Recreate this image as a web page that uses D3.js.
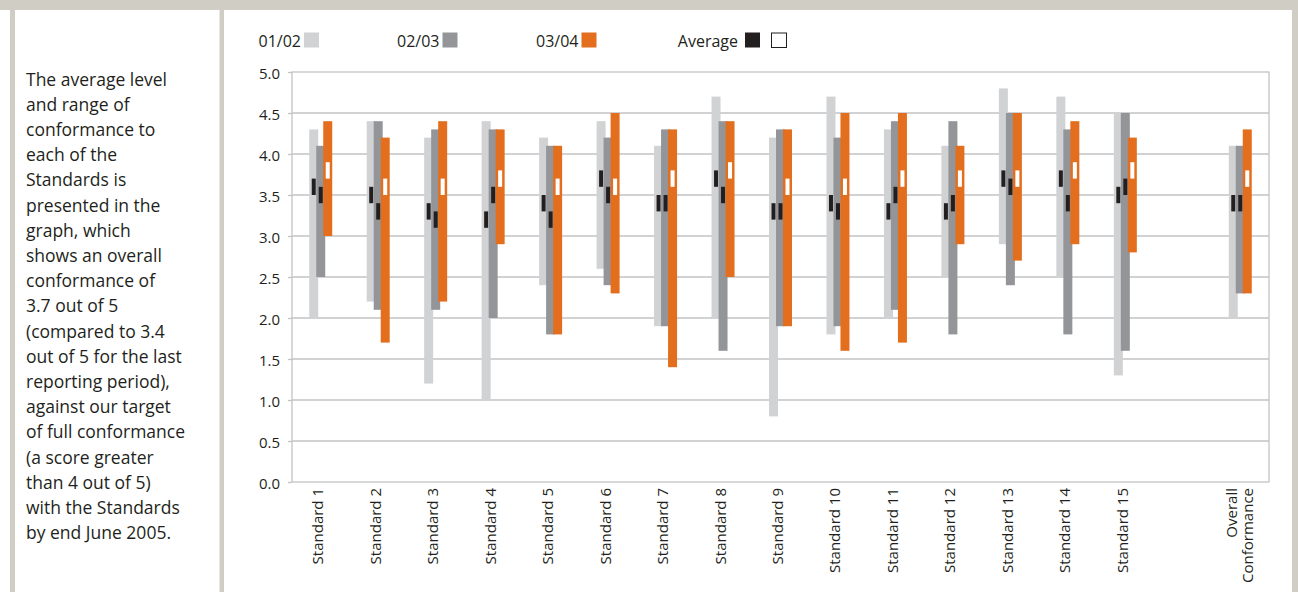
<!DOCTYPE html>
<html>
<head>
<meta charset="utf-8">
<script src="https://cdn.jsdelivr.net/npm/d3@7/dist/d3.min.js"></script>
<style>
  html, body { margin: 0; padding: 0; background: #ffffff; }
  svg { display: block; }
  text { font-family: "Open Sans", "Noto Sans", sans-serif; fill: #231f20; }
</style>
</head>
<body>
<svg id="chart" width="1298" height="592"></svg>
<script>
// ---------- data ----------
const categories = ["Standard 1","Standard 2","Standard 3","Standard 4","Standard 5",
  "Standard 6","Standard 7","Standard 8","Standard 9","Standard 10","Standard 11",
  "Standard 12","Standard 13","Standard 14","Standard 15","","Overall Conformance"];
const seriesNames = ["01/02","02/03","03/04"];
const seriesColors = ["#d1d2d4","#939598","#e36f1e"];

const low0102  = [2.0,2.2,1.2,1.0,2.4,2.6,1.9,2.0,0.8,1.8,2.0,2.5,2.9,2.5,1.3,null,2.0];
const high0102 = [4.3,4.4,4.2,4.4,4.2,4.4,4.1,4.7,4.2,4.7,4.3,4.1,4.8,4.7,4.5,null,4.1];
const avg0102  = [3.6,3.5,3.3,3.2,3.4,3.7,3.4,3.7,3.3,3.4,3.3,3.3,3.7,3.7,3.5,null,3.4];

const low0203  = [2.5,2.1,2.1,2.0,1.8,2.4,1.9,1.6,1.9,1.9,2.1,1.8,2.4,1.8,1.6,null,2.3];
const high0203 = [4.1,4.4,4.3,4.3,4.1,4.2,4.3,4.4,4.3,4.2,4.4,4.4,4.5,4.3,4.5,null,4.1];
const avg0203  = [3.5,3.3,3.2,3.5,3.2,3.5,3.4,3.5,3.3,3.3,3.5,3.4,3.6,3.4,3.6,null,3.4];

const low0304  = [3.0,1.7,2.2,2.9,1.8,2.3,1.4,2.5,1.9,1.6,1.7,2.9,2.7,2.9,2.8,null,2.3];
const high0304 = [4.4,4.2,4.4,4.3,4.1,4.5,4.3,4.4,4.3,4.5,4.5,4.1,4.5,4.4,4.2,null,4.3];
const avg0304  = [3.8,3.6,3.6,3.7,3.6,3.6,3.7,3.8,3.6,3.6,3.7,3.7,3.7,3.8,3.8,null,3.7];

const yTicks = [0,0.5,1,1.5,2,2.5,3,3.5,4,4.5,5];
const avgHalfBand = 0.1; // average marker drawn as avg ± 0.1

const introLines = ["The average level","and range of","conformance to","each of the",
  "Standards is","presented in the","graph, which","shows an overall","conformance of",
  "3.7 out of 5","(compared to 3.4","out of 5 for the last","reporting period),",
  "against our target","of full conformance","(a score greater","than 4 out of 5)",
  "with the Standards","by end June 2005."];

// ---------- build ----------
const lows = [low0102, low0203, low0304];
const highs = [high0102, high0203, high0304];
const avgs = [avg0102, avg0203, avg0304];

const svg = d3.select("#chart");
const W = 1298, H = 592;

// frame
const frame = "#d0cec4";
svg.append("rect").attr("x",0).attr("y",0).attr("width",W).attr("height",10).attr("fill",frame);
svg.append("rect").attr("x",10).attr("y",0).attr("width",5).attr("height",H).attr("fill",frame);
svg.append("rect").attr("x",219.5).attr("y",0).attr("width",4.5).attr("height",H).attr("fill",frame);
svg.append("rect").attr("x",1292).attr("y",0).attr("width",6).attr("height",H).attr("fill",frame);

// intro text
svg.append("g").selectAll("text").data(introLines).join("text")
  .attr("x", 26).attr("y", (d,i) => 85.5 + i*25.2)
  .style("font-size","17.5px").text(d => d);

// scales
const plot = {left:292, right:1269, top:72, bottom:482};
const x = d3.scaleBand().domain(d3.range(categories.length)).range([plot.left, plot.right]).padding(0);
const y = d3.scaleLinear().domain([0,5]).range([plot.bottom, plot.top]);
const off = d3.scalePoint().domain(seriesNames).range([-7, 7]);
const barW = 9, markW = 4;

// gridlines
const grid = svg.append("g");
grid.selectAll("line").data(yTicks.filter(t => t>0 && t<5)).join("line")
  .attr("x1", plot.left).attr("x2", plot.right)
  .attr("y1", d => y(d)).attr("y2", d => y(d))
  .attr("stroke","#c3c3c3").attr("stroke-width",1.3);

// y axis
const yAxis = svg.append("g").attr("transform",`translate(${plot.left},0)`)
  .call(d3.axisLeft(y).tickValues(yTicks).tickFormat(d3.format(".1f")).tickSize(4).tickPadding(8));
yAxis.select(".domain").remove();
yAxis.selectAll(".tick line").attr("stroke","#c3c3c3").attr("stroke-width",1.3);
yAxis.selectAll(".tick text").style("font-size","15px").style("font-family",'"Open Sans", sans-serif')
  .attr("fill","#231f20").attr("dy","0.45em");

// plot border
svg.append("rect").attr("x",plot.left).attr("y",plot.top)
  .attr("width",plot.right-plot.left).attr("height",plot.bottom-plot.top)
  .attr("fill","none").attr("stroke","#c3c3c3").attr("stroke-width",1.3);

// bars
seriesNames.forEach((s, si) => {
  const g = svg.append("g");
  const idx = d3.range(categories.length).filter(i => lows[si][i] != null);
  g.selectAll("rect").data(idx).join("rect")
    .attr("x", i => x(i) + x.bandwidth()/2 + off(s) - barW/2)
    .attr("width", barW)
    .attr("y", i => y(highs[si][i]))
    .attr("height", i => y(lows[si][i]) - y(highs[si][i]))
    .attr("fill", seriesColors[si]);
});
// average markers
seriesNames.forEach((s, si) => {
  const g = svg.append("g");
  const idx = d3.range(categories.length).filter(i => avgs[si][i] != null);
  g.selectAll("rect").data(idx).join("rect")
    .attr("x", i => x(i) + x.bandwidth()/2 + off(s) - markW/2)
    .attr("width", markW)
    .attr("y", i => y(avgs[si][i] + avgHalfBand))
    .attr("height", i => y(avgs[si][i] - avgHalfBand) - y(avgs[si][i] + avgHalfBand))
    .attr("fill", si === 2 ? "#ffffff" : "#231f20");
});

// x labels
const xl = svg.append("g");
categories.forEach((c, i) => {
  if (!c) return;
  const cx = x(i) + x.bandwidth()/2;
  const words = c === "Overall Conformance" ? ["Overall","Conformance"] : [c];
  const n = words.length;
  words.forEach((w, k) => {
    const bx = n === 1 ? cx + 2.5 : cx - 3 + k*16;
    xl.append("text")
      .attr("transform", `translate(${bx},488) rotate(-90)`)
      .attr("text-anchor","end")
      .style("font-size","15px")
      .text(w);
  });
});

// legend
const legendItems = [
  {label:"01/02", tx:301, sx:304, color:seriesColors[0]},
  {label:"02/03", tx:439.5, sx:442.5, color:seriesColors[1]},
  {label:"03/04", tx:578.5, sx:581.5, color:seriesColors[2]}
];
const lg = svg.append("g");
legendItems.forEach(it => {
  lg.append("text").attr("x",it.tx).attr("y",47).attr("text-anchor","end")
    .style("font-size","16px").text(it.label);
  lg.append("rect").attr("x",it.sx).attr("y",32.5).attr("width",15).attr("height",15).attr("fill",it.color);
});
lg.append("text").attr("x",738).attr("y",47).attr("text-anchor","end").style("font-size","16px").text("Average");
lg.append("rect").attr("x",745).attr("y",32.5).attr("width",15).attr("height",15).attr("fill","#231f20");
lg.append("rect").attr("x",771.5).attr("y",33).attr("width",15).attr("height",14.5)
  .attr("fill","#ffffff").attr("stroke","#231f20").attr("stroke-width",1);
</script>
</body>
</html>
